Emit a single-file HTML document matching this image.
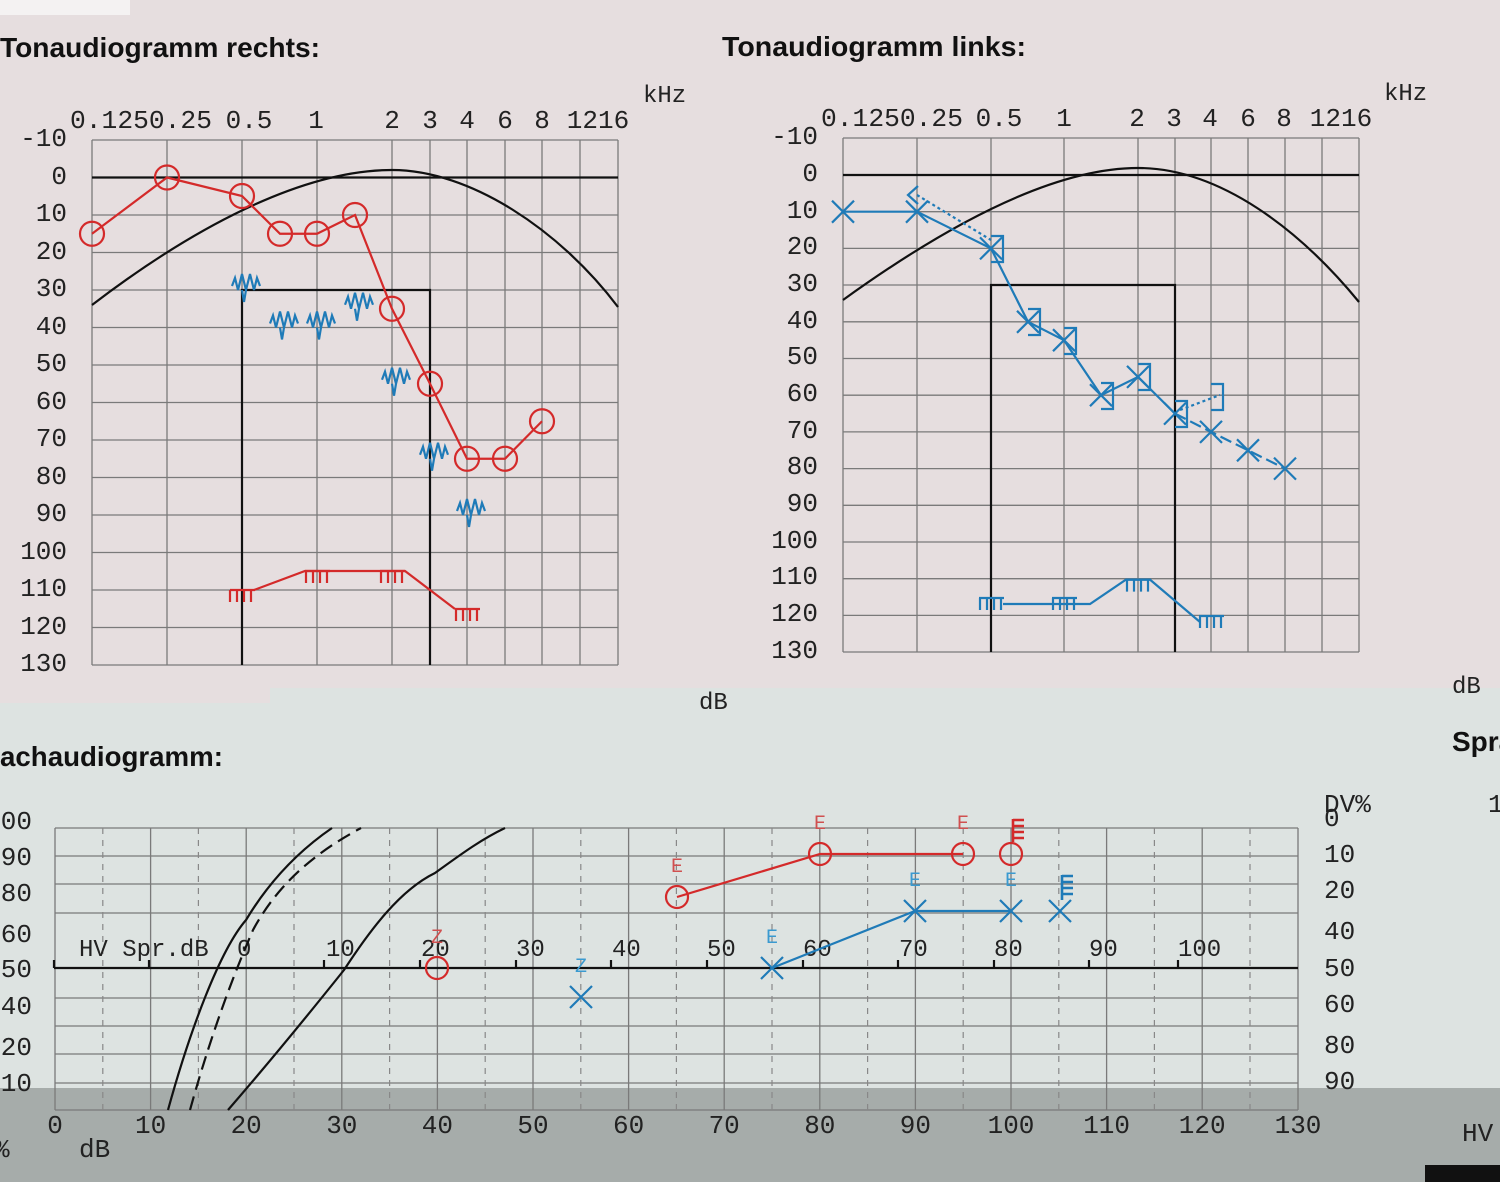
<!DOCTYPE html>
<html><head><meta charset="utf-8"><style>
html,body{margin:0;padding:0;background:#e6dedf;}
svg{display:block}
.t{font-family:"Liberation Sans",sans-serif;font-weight:bold;font-size:28px;fill:#111}
.m{font-family:"Liberation Mono",monospace;font-size:24px;fill:#222}
.y{font-family:"Liberation Mono",monospace;font-size:26px;fill:#222}
.g{stroke:#7a7a7a;stroke-width:1.3;fill:none}
.gd{stroke:#888;stroke-width:1.2;stroke-dasharray:6 6;fill:none}
.k{stroke:#111;stroke-width:2.2;fill:none}
.r{stroke:#d42a2a;stroke-width:2.2;fill:none}
.b{stroke:#1f7bb8;stroke-width:2.2;fill:none}
.rs{font-family:"Liberation Mono",monospace;font-size:20px;fill:#d05050}
.bs{font-family:"Liberation Mono",monospace;font-size:20px;fill:#3a9ad0}
</style></head><body>
<svg width="1500" height="1182" viewBox="0 0 1500 1182" xmlns="http://www.w3.org/2000/svg">
<rect x="0" y="0" width="1500" height="1182" fill="#e6dedf"/>
<rect x="0" y="688" width="1500" height="400" fill="#dde3e1"/>
<rect x="0" y="688" width="270" height="15" fill="#e6dedf"/>
<rect x="0" y="1088" width="1500" height="94" fill="#a6acaa"/>
<rect x="0" y="0" width="130" height="15" fill="#f4f2f2"/>
<rect x="1425" y="1165" width="75" height="17" fill="#111"/>

<text class="t" x="0" y="57" textLength="320" lengthAdjust="spacingAndGlyphs">Tonaudiogramm rechts:</text>
<text class="t" x="722" y="56" textLength="304" lengthAdjust="spacingAndGlyphs">Tonaudiogramm links:</text>
<text class="t" x="0" y="766" textLength="223" lengthAdjust="spacingAndGlyphs">achaudiogramm:</text>
<text class="t" x="1452" y="751">Spra</text>

<!-- ===== Right ear chart ===== -->
<g class="g">
<path d="M92,140V665M167,140V665M242,140V665M317,140V665M392,140V665M430,140V665M467,140V665M505,140V665M542,140V665M580,140V665M618,140V665"/>
<path d="M92,140H618M92,215H618M92,252.5H618M92,290H618M92,327.5H618M92,365H618M92,402.5H618M92,440H618M92,477.5H618M92,515H618M92,552.5H618M92,590H618M92,627.5H618M92,665H618"/>
</g>
<path class="k" d="M92,177.5H618"/>
<path class="k" d="M92,305 C190,230 300,170 392,170 C470,170 560,230 618,307"/>
<path class="k" d="M242,665V290H430V665"/>
<g class="y" text-anchor="end">
<text x="67" y="146">-10</text><text x="67" y="184">0</text><text x="67" y="221">10</text><text x="67" y="259">20</text><text x="67" y="296">30</text><text x="67" y="334">40</text><text x="67" y="371">50</text><text x="67" y="409">60</text><text x="67" y="446">70</text><text x="67" y="484">80</text><text x="67" y="521">90</text><text x="67" y="559">100</text><text x="67" y="596">110</text><text x="67" y="634">120</text><text x="67" y="671">130</text>
</g>
<g class="y" text-anchor="middle">
<text x="141" y="128" textLength="142" lengthAdjust="spacingAndGlyphs">0.1250.25</text>
<text x="249" y="128">0.5</text><text x="316" y="128">1</text><text x="392" y="128">2</text><text x="430" y="128">3</text><text x="467" y="128">4</text><text x="505" y="128">6</text><text x="542" y="128">8</text><text x="598" y="128">1216</text>
</g>
<text class="m" x="643" y="102">kHz</text>
<polyline class="r" points="92,233.75 167,177.5 242,196 280,233.75 317,233.75 355,215 392,308.75 430,383.75 467,458.75 505,458.75 542,421.25"/>
<g class="r">
<circle cx="92" cy="233.75" r="12"/><circle cx="167" cy="177.5" r="12"/><circle cx="242" cy="196" r="12"/><circle cx="280" cy="233.75" r="12"/><circle cx="317" cy="233.75" r="12"/><circle cx="355" cy="215" r="12"/><circle cx="392" cy="308.75" r="12"/><circle cx="430" cy="383.75" r="12"/><circle cx="467" cy="458.75" r="12"/><circle cx="505" cy="458.75" r="12"/><circle cx="542" cy="421.25" r="12"/>
</g>
<g class="b" stroke-width="2.5">
<path d="M-10,-4 l3,-8 l3,12 l4,-16 l4,16 l4,-16 l4,16 l3,-12 l3,8 M0,0 l2,12 l2,-12" transform="translate(242,290)"/>
<path d="M-10,-4 l3,-8 l3,12 l4,-16 l4,16 l4,-16 l4,16 l3,-12 l3,8 M0,0 l2,12 l2,-12" transform="translate(280,327.5)"/>
<path d="M-10,-4 l3,-8 l3,12 l4,-16 l4,16 l4,-16 l4,16 l3,-12 l3,8 M0,0 l2,12 l2,-12" transform="translate(317,327.5)"/>
<path d="M-10,-4 l3,-8 l3,12 l4,-16 l4,16 l4,-16 l4,16 l3,-12 l3,8 M0,0 l2,12 l2,-12" transform="translate(355,308.75)"/>
<path d="M-10,-4 l3,-8 l3,12 l4,-16 l4,16 l4,-16 l4,16 l3,-12 l3,8 M0,0 l2,12 l2,-12" transform="translate(392,383.75)"/>
<path d="M-10,-4 l3,-8 l3,12 l4,-16 l4,16 l4,-16 l4,16 l3,-12 l3,8 M0,0 l2,12 l2,-12" transform="translate(430,458.75)"/>
<path d="M-10,-4 l3,-8 l3,12 l4,-16 l4,16 l4,-16 l4,16 l3,-12 l3,8 M0,0 l2,12 l2,-12" transform="translate(467,515)"/>
</g>
<g class="r">
<polyline points="254,590 305,571 405,571 455,609"/>
<path d="M230,590h25M230,590v12M237,590v12M244,590v12M251,590v12"/>
<path d="M305,571h25M306,571v12M313,571v12M320,571v12M327,571v12"/>
<path d="M380,571h25M381,571v12M388,571v12M395,571v12M402,571v12"/>
<path d="M455,609h25M456,609v12M463,609v12M470,609v12M477,609v12"/>
</g>

<!-- ===== Left ear chart ===== -->
<g class="g">
<path d="M843,138V652M917,138V652M991,138V652M1064,138V652M1138,138V652M1175,138V652M1211,138V652M1248,138V652M1285,138V652M1322,138V652M1359,138V652"/>
<path d="M843,138H1359M843,211.7H1359M843,248.4H1359M843,285H1359M843,321.8H1359M843,358.5H1359M843,395.2H1359M843,431.9H1359M843,468.6H1359M843,505.3H1359M843,542H1359M843,578.7H1359M843,615.4H1359M843,652H1359"/>
</g>
<path class="k" d="M843,175H1359"/>
<path class="k" d="M843,300 C940,230 1050,168 1138,168 C1220,168 1300,230 1359,302"/>
<path class="k" d="M991,652V285H1175V652"/>
<g class="y" text-anchor="end">
<text x="818" y="144">-10</text><text x="818" y="181">0</text><text x="818" y="218">10</text><text x="818" y="254">20</text><text x="818" y="291">30</text><text x="818" y="328">40</text><text x="818" y="364">50</text><text x="818" y="401">60</text><text x="818" y="438">70</text><text x="818" y="474">80</text><text x="818" y="511">90</text><text x="818" y="548">100</text><text x="818" y="584">110</text><text x="818" y="621">120</text><text x="818" y="658">130</text>
</g>
<g class="y" text-anchor="middle">
<text x="892" y="126" textLength="142" lengthAdjust="spacingAndGlyphs">0.1250.25</text>
<text x="999" y="126">0.5</text><text x="1064" y="126">1</text><text x="1137" y="126">2</text><text x="1174" y="126">3</text><text x="1210" y="126">4</text><text x="1248" y="126">6</text><text x="1284" y="126">8</text><text x="1341" y="126">1216</text>
</g>
<text class="m" x="1384" y="100">kHz</text>
<polyline class="b" points="843,211.7 917,211.7 991,248.4 1028,321.8 1064,340.2 1101,395.2 1138,376.9 1175,413.6"/>
<polyline class="b" stroke-dasharray="12 5" points="1175,413.6 1211,431.9 1248,450.3 1285,468.6"/>
<path class="b" stroke-dasharray="3 3" d="M917,195L991,240M1180,410L1220,395"/>
<g class="b">
<path d="M-11,-11L11,11M-11,11L11,-11" transform="translate(843,211.7)"/>
<path d="M-11,-11L11,11M-11,11L11,-11" transform="translate(917,211.7)"/>
<path d="M-11,-11L11,11M-11,11L11,-11" transform="translate(991,248.4)"/>
<path d="M-11,-11L11,11M-11,11L11,-11" transform="translate(1028,321.8)"/>
<path d="M-11,-11L11,11M-11,11L11,-11" transform="translate(1064,340.2)"/>
<path d="M-11,-11L11,11M-11,11L11,-11" transform="translate(1101,395.2)"/>
<path d="M-11,-11L11,11M-11,11L11,-11" transform="translate(1138,376.9)"/>
<path d="M-11,-11L11,11M-11,11L11,-11" transform="translate(1175,413.6)"/>
<path d="M-11,-11L11,11M-11,11L11,-11" transform="translate(1211,431.9)"/>
<path d="M-11,-11L11,11M-11,11L11,-11" transform="translate(1248,450.3)"/>
<path d="M-11,-11L11,11M-11,11L11,-11" transform="translate(1285,468.6)"/>
<path d="M-6,-12h12v26h-12" transform="translate(997,248)"/>
<path d="M-6,-12h12v26h-12" transform="translate(1034,321)"/>
<path d="M-6,-12h12v26h-12" transform="translate(1070,340)"/>
<path d="M-6,-12h12v26h-12" transform="translate(1107,395)"/>
<path d="M-6,-12h12v26h-12" transform="translate(1144,376)"/>
<path d="M-6,-12h12v26h-12" transform="translate(1181,413)"/>
<path d="M-6,-12h12v26h-12" transform="translate(1217,396)"/>
<path d="M918,186L908,195L918,204"/>
</g>
<g class="b">
<polyline points="1003,604 1052,604 1090,604 1126,579.6 1150,579.6 1200,622"/>
<path d="M979,598h25M980,598v12M987,598v12M994,598v12M1001,598v12"/>
<path d="M1052,598h25M1053,598v12M1060,598v12M1067,598v12M1074,598v12"/>
<path d="M1126,579.6h25M1127,579.6v12M1134,579.6v12M1141,579.6v12M1148,579.6v12"/>
<path d="M1199,616h25M1200,616v12M1207,616v12M1214,616v12M1221,616v12"/>
</g>
<text class="m" x="699" y="709">dB</text>
<text class="m" x="1452" y="693">dB</text>

<!-- ===== Speech chart ===== -->
<g class="g">
<path d="M55,828V1110M150.6,828V1110M246.2,828V1110M341.8,828V1110M437.4,828V1110M533,828V1110M628.6,828V1110M724.2,828V1110M819.8,828V1110M915.4,828V1110M1011,828V1110M1106.6,828V1110M1202.2,828V1110M1298,828V1110"/>
<path d="M55,828H1298M55,856H1298M55,884H1298M55,913H1298M55,998H1298M55,1026H1298M55,1054H1298M55,1083H1298M55,1110H1298"/>
</g>
<g class="gd">
<path d="M102.8,828V1110M198.4,828V1110M294,828V1110M389.6,828V1110M485.2,828V1110M580.8,828V1110M676.4,828V1110M772,828V1110M867.6,828V1110M963.2,828V1110M1058.8,828V1110M1154.4,828V1110M1250,828V1110"/>
</g>
<path class="k" d="M54,968H1298M54,960v8M149,960v8M324,960v8M420,960v8M516,960v8M611,960v8M707,960v8M803,960v8M898,960v8M994,960v8M1089,960v8M1178,960v8"/>
<g class="m">
<text x="79" y="956">HV Spr.dB</text>
<text x="237" y="956">0</text><text x="326" y="956">10</text><text x="421" y="956">20</text><text x="516" y="956">30</text><text x="612" y="956">40</text><text x="707" y="956">50</text><text x="803" y="956">60</text><text x="899" y="956">70</text><text x="994" y="956">80</text><text x="1089" y="956">90</text><text x="1178" y="956">100</text>
</g>
<g class="y" text-anchor="end">
<text x="32" y="829">00</text><text x="32" y="865">90</text><text x="32" y="901">80</text><text x="32" y="942">60</text><text x="32" y="977">50</text><text x="32" y="1014">40</text><text x="32" y="1055">20</text><text x="32" y="1091">10</text>
</g>
<g class="y">
<text x="1324" y="812">DV%</text><text x="1324" y="826">0</text><text x="1324" y="862">10</text><text x="1324" y="898">20</text><text x="1324" y="939">40</text><text x="1324" y="976">50</text><text x="1324" y="1012">60</text><text x="1324" y="1053">80</text><text x="1324" y="1089">90</text>
<text x="1488" y="812">1</text><text x="1462" y="1141">HV</text>
<text x="79" y="1157">dB</text><text x="-6" y="1157">%</text>
</g>
<g class="y" text-anchor="middle">
<text x="55" y="1133">0</text><text x="150.6" y="1133">10</text><text x="246.2" y="1133">20</text><text x="341.8" y="1133">30</text><text x="437.4" y="1133">40</text><text x="533" y="1133">50</text><text x="628.6" y="1133">60</text><text x="724.2" y="1133">70</text><text x="819.8" y="1133">80</text><text x="915.4" y="1133">90</text><text x="1011" y="1133">100</text><text x="1106.6" y="1133">110</text><text x="1202.2" y="1133">120</text><text x="1298" y="1133">130</text>
</g>
<path class="k" stroke-width="1.8" d="M168,1110 C190,1030 220,950 246,920 C270,880 300,850 332,828"/>
<path class="k" stroke-width="1.8" stroke-dasharray="14 7" d="M190,1110 C215,1020 240,960 253,930 C280,880 320,850 361,828"/>
<path class="k" stroke-width="1.8" d="M228,1110 C280,1050 320,1000 344,970 C370,930 400,890 435,873 C460,855 480,840 505,828"/>
<polyline class="r" points="677,897 820,854 963,854"/>
<g class="r">
<circle cx="437" cy="968" r="11"/><circle cx="677" cy="897" r="11"/><circle cx="820" cy="854" r="11"/><circle cx="963" cy="854" r="11"/><circle cx="1011" cy="854" r="11"/>
<path d="M1013,842V819M1013,820h11M1013,826h11M1013,832h11M1013,838h11" stroke-width="2.6"/>
</g>
<polyline class="b" points="772,968 915,911 1011,911"/>
<g class="b">
<path d="M-11,-11L11,11M-11,11L11,-11" transform="translate(581,997)"/>
<path d="M-11,-11L11,11M-11,11L11,-11" transform="translate(772,968)"/>
<path d="M-11,-11L11,11M-11,11L11,-11" transform="translate(915,911)"/>
<path d="M-11,-11L11,11M-11,11L11,-11" transform="translate(1011,911)"/>
<path d="M-11,-11L11,11M-11,11L11,-11" transform="translate(1060,911)"/>
<path d="M1062,900V875M1062,876h11M1062,882h11M1062,888h11M1062,894h11" stroke-width="2.6"/>
</g>
<g text-anchor="middle">
<text class="rs" x="437" y="943">Z</text><text class="rs" x="677" y="872">E</text><text class="rs" x="820" y="829">E</text><text class="rs" x="963" y="829">E</text>
<text class="bs" x="581" y="972">Z</text><text class="bs" x="772" y="943">E</text><text class="bs" x="915" y="886">E</text><text class="bs" x="1011" y="886">E</text>
</g>
</svg>
</body></html>
